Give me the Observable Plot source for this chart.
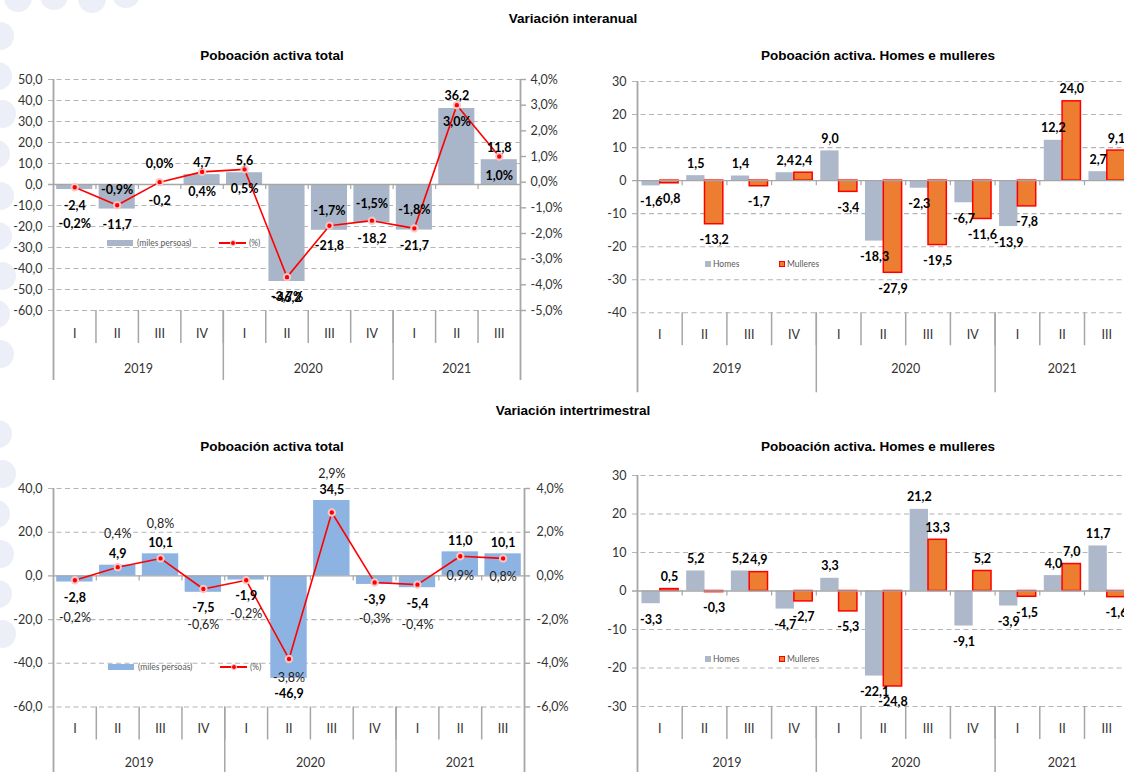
<!DOCTYPE html>
<html>
<head>
<meta charset="utf-8">
<script src="https://cdn.jsdelivr.net/npm/d3@7"></script>
<script src="https://cdn.jsdelivr.net/npm/@observablehq/plot@0.6"></script>
<style>
  html, body { margin: 0; padding: 0; background: #fff; }
  body { width: 1124px; height: 772px; position: relative; overflow: hidden; font-family: "Liberation Sans", Arial, sans-serif; }
  .title { position: absolute; transform: translateX(-50%); font-weight: bold; font-size: 13.5px; line-height: 16px; white-space: nowrap; color: #000; }
  .panel { position: absolute; }
  .panel svg { max-width: none; }
  .leg { position: absolute; font-family: Lato, "Open Sans", sans-serif; font-size: 8.5px; color: #595959; line-height: 10px; white-space: nowrap; }
  .deco { position: absolute; border-radius: 50%; background: #eceff8; }
</style>
</head>
<body>
<script>
// ---------------- DATA ----------------
const quarters = ["I", "II", "III", "IV", "I", "II", "III", "IV", "I", "II", "III"];
const quarterYear = ["2019", "2019", "2019", "2019", "2020", "2020", "2020", "2020", "2021", "2021", "2021"];

// Variación interanual
const interTotal    = [-2.4, -11.7, -0.2, 4.7, 5.6, -46.2, -21.8, -18.2, -21.7, 36.2, 11.8];   // miles persoas
const interTotalPct = [-0.2, -0.9, 0.0, 0.4, 0.5, -3.7, -1.7, -1.5, -1.8, 3.0, 1.0];           // %
const interHomes    = [-1.6, 1.5, 1.4, 2.4, 9.0, -18.3, -2.3, -6.7, -13.9, 12.2, 2.7];
const interMulleres = [-0.8, -13.2, -1.7, 2.4, -3.4, -27.9, -19.5, -11.6, -7.8, 24.0, 9.1];

// Variación intertrimestral
const trimTotal    = [-2.8, 4.9, 10.1, -7.5, -1.9, -46.9, 34.5, -3.9, -5.4, 11.0, 10.1];
const trimTotalPct = [-0.2, 0.4, 0.8, -0.6, -0.2, -3.8, 2.9, -0.3, -0.4, 0.9, 0.8];
const trimHomes    = [-3.3, 5.2, 5.2, -4.7, 3.3, -22.1, 21.2, -9.1, -3.9, 4.0, 11.7];
const trimMulleres = [0.5, -0.3, 4.9, -2.7, -5.3, -24.8, 13.3, 5.2, -1.5, 7.0, -1.6];

// Axis ticks
const interTotalTicks = [50, 40, 30, 20, 10, 0, -10, -20, -30, -40, -50, -60];
const interPctTicks   = [4, 3, 2, 1, 0, -1, -2, -3, -4, -5];
const interHMTicks    = [30, 20, 10, 0, -10, -20, -30, -40];
const trimTotalTicks  = [40, 20, 0, -20, -40, -60];
const trimPctTicks    = [4, 2, 0, -2, -4, -6];
const trimHMTicks     = [30, 20, 10, 0, -10, -20, -30];

// Texts
const mainTitles  = ["Variación interanual", "Variación intertrimestral"];
const panelTitles = ["Poboación activa total", "Poboación activa. Homes e mulleres"];
const legendTotal = ["(miles persoas)", "(%)"];
const legendHM    = ["Homes", "Mulleres"];

// ---------------- HELPERS ----------------
const loc = d3.formatLocale({decimal: ",", thousands: ".", grouping: [3], currency: ["", ""], minus: "-"});
const f1 = loc.format(".1f");
const fInt = loc.format("d");
const FONT = "Lato, 'Open Sans', sans-serif";
const GRID = "#b4b4b4", AXIS = "#a6a6a6", TXT = "#333333";
const RED = "#ff0000";
const C_TOTAL1 = "#a9b5c9", C_TOTAL2 = "#8db3e2", C_HOMES = "#adb9ca", C_MULL = "#ed7d31";

const n = quarters.length;
const yearNames = Array.from(new Set(quarterYear));
const yearStart = yearNames.map(y => quarterYear.indexOf(y));
const yearCount = yearNames.map(y => quarterYear.filter(q => q === y).length);
const yearBounds = yearStart.filter(s => s > 0);

function el(tag, cls, style, text) {
  const e = document.createElement(tag);
  if (cls) e.className = cls;
  Object.assign(e.style, style);
  if (text != null) e.textContent = text;
  document.body.appendChild(e);
  return e;
}

// background decoration
[[-14, 22], [-16, 62], [-12, 100], [-18, 140], [-14, 182], [-16, 222], [-12, 262], [-18, 300], [-14, 340], [-16, 420], [-12, 460], [-18, 500], [-14, 540], [-16, 580], [-12, 620]]
  .forEach(([x, y]) => el("div", "deco", {left: x + "px", top: y + "px", width: "28px", height: "28px"}));
[[4, -16], [40, -18], [78, -15], [112, -20]]
  .forEach(([x, y]) => el("div", "deco", {left: x + "px", top: y + "px", width: "28px", height: "28px"}));

// titles
el("div", "title", {left: "573px", top: "11px"}, mainTitles[0]);
el("div", "title", {left: "573px", top: "403px"}, mainTitles[1]);
el("div", "title", {left: "272px", top: "48px"}, panelTitles[0]);
el("div", "title", {left: "878px", top: "48px"}, panelTitles[1]);
el("div", "title", {left: "272px", top: "439px"}, panelTitles[0]);
el("div", "title", {left: "878px", top: "439px"}, panelTitles[1]);

// text marks grouped by a per-point offset (dy is a constant option in Plot)
function labels(rows, xFn, yFn, textFn, dyFn, opts) {
  return d3.groups(rows, dyFn).map(([dy, rs]) =>
    Plot.text(rs, {x: xFn, y: yFn, text: textFn, dy, fill: "#000", fontSize: 12.5, fontWeight: "bold", fontFamily: FONT, ...opts}));
}

function chart(cfg) {
  const {left, top, width, height, m, yDomain, leftTicks, leftFmt, right, catDy, yearDy, sepLen, yearLen, marks} = cfg;
  const yMin = yDomain[0];
  const all = [
    Plot.ruleY(leftTicks.filter(t => t !== 0), {stroke: GRID, strokeDasharray: "5,3.5", strokeWidth: 1.1, insetLeft: -5}),
    ...marks.under,
    Plot.ruleY([0], {stroke: AXIS, strokeWidth: 1.4, insetLeft: -5}),
    Plot.ruleX(d3.range(1, n), {y1: 0, y2: 0, insetBottom: -5, stroke: AXIS, strokeWidth: 1.2}),
    Plot.ruleX([0, n], {stroke: AXIS, strokeWidth: 1.8, insetBottom: -yearLen}),
    Plot.ruleX(d3.range(1, n), {y1: yMin, y2: yMin, insetBottom: -sepLen, stroke: AXIS, strokeWidth: 1.5}),
    Plot.ruleX(yearBounds, {y1: yMin, y2: yMin, insetBottom: -yearLen, stroke: AXIS, strokeWidth: 1.5}),
    Plot.text(quarters, {x: (d, i) => i + 0.5, text: d => d, frameAnchor: "bottom", dy: catDy, fill: TXT, fontSize: 12.5, fontFamily: FONT}),
    Plot.text(yearNames, {x: (d, i) => yearStart[i] + yearCount[i] / 2, text: d => d, frameAnchor: "bottom", dy: yearDy, fill: TXT, fontSize: 12.5, fontFamily: FONT}),
    Plot.axisY(leftTicks, {anchor: "left", tickSize: 0, tickPadding: 11, tickFormat: leftFmt, fill: TXT, fontSize: 12.5, fontFamily: FONT, label: null}),
    ...(right ? [Plot.axisY(right.ticks.map(right.toLeft), {anchor: "right", tickSize: 5, tickPadding: right.pad, stroke: AXIS, strokeWidth: 1.4,
        tickFormat: v => f1(right.fromLeft(v)) + "%", fill: TXT, fontSize: 12.5, fontFamily: FONT, label: null})] : []),
    ...marks.over
  ];
  const svg = Plot.plot({
    width, height,
    marginLeft: m[0], marginRight: m[1], marginTop: m[2], marginBottom: m[3],
    x: {domain: [0, n], axis: null},
    y: {domain: yDomain, axis: null},
    style: {background: "transparent", overflow: "visible", maxWidth: "none", fontFamily: FONT, fontSize: "12px"},
    marks: all
  });
  const div = el("div", "panel", {left: left + "px", top: top + "px", width: width + "px", height: height + "px"});
  div.appendChild(svg);
}

// ---------- Panel 1: interanual total ----------
{
  const toLeft = p => -60 + (p + 5) * 110 / 9;
  const fromLeft = v => Math.round(((v + 60) * 9 / 110 - 5) * 10) / 10;
  const rows = quarters.map((q, i) => ({i, v: interTotal[i], p: interTotalPct[i]}));
  const pctDy = [37, -15, -18, 20, 20, 20, -15, -17, -18, 17, 19];
  const xc = d => d.i + 0.5;
  chart({
    left: 0, top: 60, width: 575, height: 330, m: [53, 55, 19, 80],
    yDomain: [-60, 50], leftTicks: interTotalTicks, leftFmt: f1,
    right: {ticks: interPctTicks, toLeft, fromLeft, pad: 5},
    catDy: 27, yearDy: 62, sepLen: 33, yearLen: 70,
    marks: {
      under: [Plot.rect(rows, {x1: d => d.i + 0.075, x2: d => d.i + 0.925, y1: 0, y2: "v", fill: C_TOTAL1})],
      over: [
        Plot.line(rows, {x: xc, y: d => toLeft(d.p), stroke: RED, strokeWidth: 1.6}),
        Plot.dot(rows, {x: xc, y: d => toLeft(d.p), r: 3.2, fill: RED, stroke: "#f7c6c6", strokeWidth: 2}),
        ...labels(rows, xc, "v", d => f1(d.v), d => d.v < 0 ? 16 : -12, {}),
        ...labels(rows, xc, d => toLeft(d.p), d => f1(d.p) + "%", d => pctDy[d.i], {})
      ]
    }
  });
  el("div", "", {position: "absolute", left: "107px", top: "240px", width: "26px", height: "6px", background: C_TOTAL1});
  el("div", "leg", {left: "137px", top: "238px"}, legendTotal[0]);
  el("div", "", {position: "absolute", left: "219px", top: "242px", width: "27px", height: "1.6px", background: RED});
  el("div", "", {position: "absolute", left: "229.5px", top: "239.8px", width: "4px", height: "4px", background: RED, border: "1px solid #f7c6c6", borderRadius: "50%"});
  el("div", "leg", {left: "249px", top: "238px"}, legendTotal[1]);
}

// ---------- Panels 2 & 4: homes / mulleres ----------
function hmPanel(top, yDomain, ticks, homes, mulleres, legendY, mTop, mBottom) {
  const rows = quarters.map((q, i) => ({i, h: homes[i], m: mulleres[i]}));
  chart({
    left: 560, top, width: 580, height: 330, m: [77, 11.3, mTop, mBottom],
    yDomain, leftTicks: ticks, leftFmt: fInt, right: null,
    catDy: 26, yearDy: 60, sepLen: 33, yearLen: 80,
    marks: {
      under: [
        Plot.rect(rows, {x1: d => d.i + 0.1, x2: d => d.i + 0.51, y1: 0, y2: "h", fill: C_HOMES}),
        Plot.rect(rows, {x1: d => d.i + 0.51, x2: d => d.i + 0.92, y1: 0, y2: "m", fill: C_MULL, stroke: RED, strokeWidth: 1.5})
      ],
      over: [
        ...labels(rows, d => d.i + 0.305, "h", d => f1(d.h), d => d.h < 0 ? 16 : -12, {}),
        ...labels(rows, d => d.i + 0.715, "m", d => f1(d.m), d => d.m < 0 ? 16 : -12, {})
      ]
    }
  });
  el("div", "", {position: "absolute", left: "705px", top: (legendY - 3) + "px", width: "6px", height: "6px", background: C_HOMES});
  el("div", "leg", {left: "713px", top: (legendY - 5) + "px"}, legendHM[0]);
  el("div", "", {position: "absolute", left: "779px", top: (legendY - 3) + "px", width: "6px", height: "6px", background: C_MULL, border: "1px solid " + RED, boxSizing: "border-box"});
  el("div", "leg", {left: "787px", top: (legendY - 5) + "px"}, legendHM[1]);
}
hmPanel(60, [-40, 30], interHMTicks, interHomes, interMulleres, 264, 21, 77.7);

// ---------- Panel 3: intertrimestral total ----------
{
  const toLeft = p => p * 10;
  const fromLeft = v => Math.round(v) / 10;
  const rows = quarters.map((q, i) => ({i, v: trimTotal[i], p: trimTotalPct[i]}));
  const pctDy = [38, -33, -34, 36, 34, 19, -39, 37, 40, 20, 19];
  const xc = d => d.i + 0.5;
  chart({
    left: 0, top: 450, width: 578, height: 330, m: [53, 54, 38, 73.5],
    yDomain: [-60, 40], leftTicks: trimTotalTicks, leftFmt: f1,
    right: {ticks: trimPctTicks, toLeft, fromLeft, pad: 7},
    catDy: 26, yearDy: 60, sepLen: 33, yearLen: 80,
    marks: {
      under: [Plot.rect(rows, {x1: d => d.i + 0.075, x2: d => d.i + 0.925, y1: 0, y2: "v", fill: C_TOTAL2})],
      over: [
        Plot.line(rows, {x: xc, y: d => toLeft(d.p), stroke: RED, strokeWidth: 1.6}),
        Plot.dot(rows, {x: xc, y: d => toLeft(d.p), r: 3.2, fill: RED, stroke: "#f7c6c6", strokeWidth: 2}),
        ...labels(rows, xc, "v", d => f1(d.v), d => d.v < 0 ? 16 : -11, {}),
        ...labels(rows, xc, d => toLeft(d.p), d => f1(d.p) + "%", d => pctDy[d.i], {fontWeight: "normal", fill: "#222"})
      ]
    }
  });
  el("div", "", {position: "absolute", left: "108px", top: "664px", width: "26px", height: "6px", background: C_TOTAL2});
  el("div", "leg", {left: "138px", top: "662px"}, legendTotal[0]);
  el("div", "", {position: "absolute", left: "220px", top: "666px", width: "27px", height: "1.6px", background: RED});
  el("div", "", {position: "absolute", left: "230.5px", top: "663.8px", width: "4px", height: "4px", background: RED, border: "1px solid #f7c6c6", borderRadius: "50%"});
  el("div", "leg", {left: "250px", top: "662px"}, legendTotal[1]);
}

// ---------- Panel 4 ----------
hmPanel(450, [-30, 30], trimHMTicks, trimHomes, trimMulleres, 659, 25, 74);
</script>
</body>
</html>
